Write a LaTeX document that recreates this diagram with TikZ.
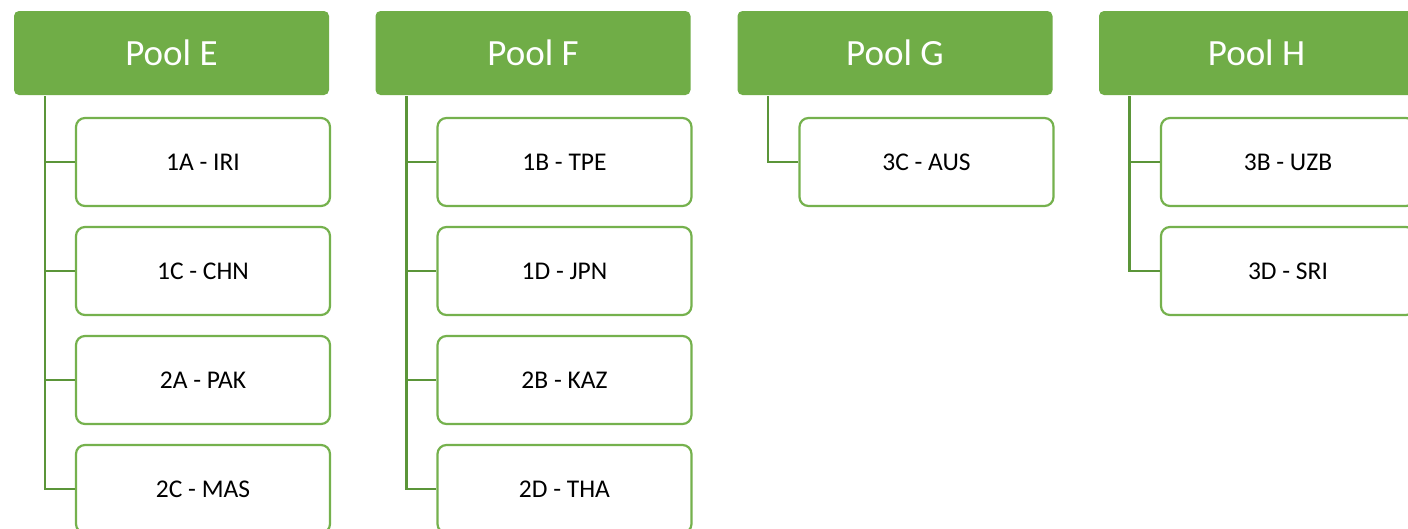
\documentclass[tikz,border=0pt]{standalone}
\usepackage{fontspec}
\setmainfont{Carlito}
\definecolor{hdr}{HTML}{70AD47}
\definecolor{spine}{HTML}{5B9539}
\definecolor{cbord}{HTML}{75B14D}
\tikzset{
  x=1pt,y=1pt,
  header/.style={draw=none,fill=hdr,rounded corners=5pt,minimum width=315pt,minimum height=84pt,
    text=white,font=\fontsize{37}{40}\selectfont,inner sep=0pt},
  child/.style={draw=cbord,line width=2.2pt,fill=white,rounded corners=9pt,minimum width=254pt,minimum height=88pt,
    font=\fontsize{25.5}{28}\selectfont,inner sep=0pt},
  conn/.style={draw=spine,line width=2.6pt}
}
\begin{document}
\begin{tikzpicture}
\useasboundingbox (0,0) rectangle (1408,-528);
\fill[white] (0,0) rectangle (1408,-528);
% Column E
\node[header] (E) at (171.5,-53) {Pool E};
\node[child] (E1) at (203,-162) {1A - IRI};
\node[child] (E2) at (203,-271) {1C - CHN};
\node[child] (E3) at (203,-380) {2A - PAK};
\node[child] (E4) at (203,-489) {2C - MAS};
\coordinate (Es) at (45,-96);
\draw[conn] (Es) |- (E4.west);
\foreach \c in {E1,E2,E3} \draw[conn] (Es |- \c.west) -- (\c.west);
% Column F
\node[header] (F) at (533,-53) {Pool F};
\node[child] (F1) at (564.5,-162) {1B - TPE};
\node[child] (F2) at (564.5,-271) {1D - JPN};
\node[child] (F3) at (564.5,-380) {2B - KAZ};
\node[child] (F4) at (564.5,-489) {2D - THA};
\coordinate (Fs) at (406.5,-96);
\draw[conn] (Fs) |- (F4.west);
\foreach \c in {F1,F2,F3} \draw[conn] (Fs |- \c.west) -- (\c.west);
% Column G
\node[header] (G) at (895,-53) {Pool G};
\node[child] (G1) at (926.5,-162) {3C - AUS};
\coordinate (Gs) at (768,-96);
\draw[conn] (Gs) |- (G1.west);
% Column H
\node[header] (H) at (1256.5,-53) {Pool H};
\node[child] (H1) at (1288,-162) {3B - UZB};
\node[child] (H2) at (1288,-271) {3D - SRI};
\coordinate (Hs) at (1129.5,-96);
\draw[conn] (Hs) |- (H2.west);
\draw[conn] (Hs |- H1.west) -- (H1.west);
\end{tikzpicture}
\end{document}
